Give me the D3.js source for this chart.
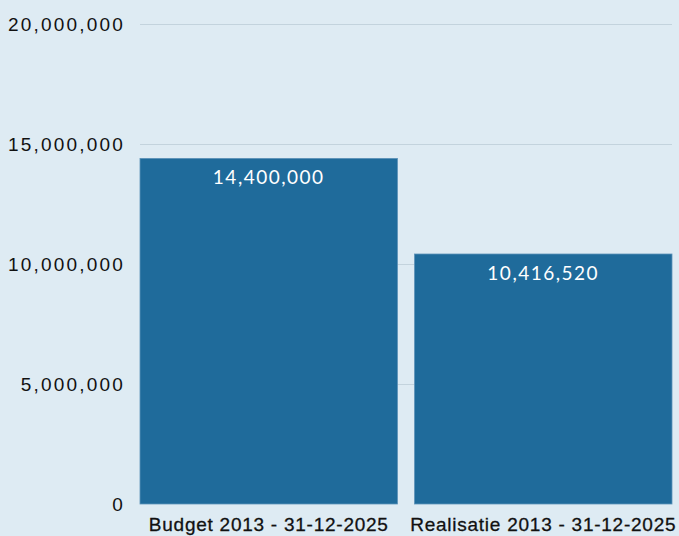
<!DOCTYPE html>
<html>
<head>
<meta charset="utf-8">
<script src="https://cdn.jsdelivr.net/npm/d3@7"></script>
<style>
  html, body { margin: 0; padding: 0; background: #deebf3; }
  svg { display: block; font-family: "Lato", "Noto Sans", sans-serif; }
</style>
</head>
<body>
<svg width="679" height="536"></svg>
<script>
const categories = ["Budget 2013 - 31-12-2025", "Realisatie 2013 - 31-12-2025"];
const values = [14400000, 10416520];
const tickValues = [0, 5000000, 10000000, 15000000, 20000000];

const width = 679;
const height = 536;
const margin = {top: 24, right: 7, bottom: 32, left: 140};

const svg = d3.select("svg");
const fmt = d3.format(",");

const x = d3.scaleBand()
    .domain(categories)
    .range([margin.left, width - margin.right])
    .paddingInner(0.062)
    .paddingOuter(0);

const y = d3.scaleLinear()
    .domain([0, 20000000])
    .range([height - margin.bottom, margin.top]);

// gridlines
svg.append("g")
    .selectAll("line")
    .data(tickValues.filter(d => d > 0))
    .enter().append("line")
        .attr("x1", margin.left)
        .attr("x2", width - margin.right)
        .attr("y1", d => y(d) + 0.5)
        .attr("y2", d => y(d) + 0.5)
        .attr("stroke", "#c3d3dd")
        .attr("stroke-width", 1);

// y axis
const yAxis = svg.append("g")
    .attr("transform", `translate(${margin.left},0)`)
    .call(d3.axisLeft(y).tickValues(tickValues).tickFormat(fmt).tickSize(0).tickPadding(15));
yAxis.select(".domain").remove();
yAxis.selectAll("text")
    .attr("fill", "#111")
    .attr("font-size", 19)
    .attr("letter-spacing", 2.2);

// bars
svg.append("g")
    .selectAll("rect")
    .data(values)
    .enter().append("rect")
        .attr("x", (d, i) => x(categories[i]))
        .attr("y", d => y(d))
        .attr("width", x.bandwidth())
        .attr("height", d => y(0) - y(d))
        .attr("fill", "#1f6b9b")
        .attr("stroke", "#5d93b8")
        .attr("stroke-width", 0.8);

// value labels
svg.append("g")
    .selectAll("text")
    .data(values)
    .enter().append("text")
        .attr("x", (d, i) => x(categories[i]) + x.bandwidth() / 2)
        .attr("y", d => y(d) + 26)
        .attr("text-anchor", "middle")
        .attr("fill", "#fff")
        .attr("font-size", 19)
        .attr("letter-spacing", 1.5)
        .text(d => fmt(d));

// x axis
const xAxis = svg.append("g")
    .attr("transform", `translate(0,${y(0)})`)
    .call(d3.axisBottom(x).tickSize(0).tickPadding(10));
xAxis.select(".domain").remove();
xAxis.selectAll("text")
    .attr("fill", "#111")
    .attr("font-size", 19)
    .attr("letter-spacing", 0.75)
    .attr("stroke", "#111")
    .attr("stroke-width", 0.3)
    .attr("dy", "0.9em");
</script>
</body>
</html>
